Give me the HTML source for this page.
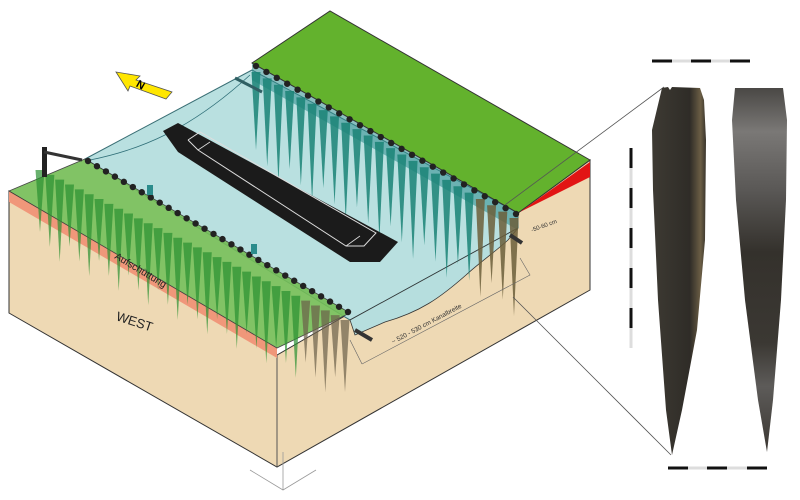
<!DOCTYPE html>
<html><head><meta charset="utf-8"><style>
html,body{margin:0;padding:0;background:#fff;width:800px;height:500px;overflow:hidden}
svg{display:block}
text{font-family:"Liberation Sans",sans-serif}
</style></head><body>
<svg width="800" height="500" viewBox="0 0 800 500" xmlns="http://www.w3.org/2000/svg">
<defs>
<linearGradient id="st1" x1="0" x2="1"><stop offset="0" stop-color="#3d3a33"/><stop offset="0.7" stop-color="#2f2c27"/><stop offset="0.9" stop-color="#6b5e45"/><stop offset="1" stop-color="#3a352c"/></linearGradient>
<linearGradient id="st2" x1="0" y1="0" x2="0" y2="1"><stop offset="0" stop-color="#4a4845"/><stop offset="0.12" stop-color="#7a7876"/><stop offset="0.28" stop-color="#5a5856"/><stop offset="0.45" stop-color="#34312c"/><stop offset="0.7" stop-color="#3b3833"/><stop offset="0.82" stop-color="#5d5b59"/><stop offset="1" stop-color="#3a3631"/></linearGradient>
</defs>
<polygon points="9,191 9,313 277,467 590,290 590,160 518,213 350,313 277,355" fill="#eed9b4" stroke="#333" stroke-width="1"/>
<line x1="277" y1="355" x2="277" y2="467" stroke="#555" stroke-width="1"/>
<polygon points="9,191 277,348 277,358 9,202" fill="#f0977a"/>
<polygon points="85,159 252,70 518,213 518,228 350,320" fill="#b9e0e0" stroke="#3a6f75" stroke-width="1"/>
<path d="M350,320 L518,228 L508,240 C495,252 480,262 466,275 C440,298 420,312 385,322 L355,335 Z" fill="#b6dede" stroke="#333" stroke-width="0.8"/>
<path d="M90,160 C140,150 190,130 250,75" fill="none" stroke="#2f6f78" stroke-width="0.8"/>
<polygon points="252,63 518,213 518,230 252,80" fill="#2b8c8c" opacity="0.55"/>
<g id="rstakes"></g>
<polygon points="163,131 178,123 398,242 380,262 350,262 178,152" fill="#1b1b1b"/>
<polyline points="188,140 200,132 376,233 364,246 346,246 198,150 188,140" fill="none" stroke="#ddd" stroke-width="1"/>
<line x1="198" y1="150" x2="210" y2="142" stroke="#ddd" stroke-width="0.8"/>
<line x1="346" y1="246" x2="360" y2="236" stroke="#ddd" stroke-width="0.8"/>
<polygon points="252,63 330,11 590,160 518,213" fill="#63b22d" stroke="#333" stroke-width="1"/>
<polygon points="520,212 590,162 590,177" fill="#e21414"/>
<g id="rbol"></g>
<polygon points="9,191 85,159 350,313 277,348" fill="#74bd55" opacity="0.9" stroke="#333" stroke-width="0.8"/>
<g id="lstakes"></g>
<g id="lbol"></g>
<rect x="42" y="147" width="5" height="30" fill="#222"/>
<line x1="44" y1="152" x2="82" y2="160" stroke="#333" stroke-width="3"/>
<line x1="235" y1="78" x2="262" y2="92" stroke="#2f5f63" stroke-width="3"/>
<line x1="355" y1="330" x2="372" y2="340" stroke="#333" stroke-width="4"/>
<line x1="510" y1="235" x2="522" y2="243" stroke="#333" stroke-width="4"/>
<rect x="147" y="185" width="6" height="10" fill="#2b8c8c"/>
<rect x="251" y="244" width="6" height="10" fill="#2b8c8c"/>
<polygon points="116,72 140,76 136,80 172,92 166,99 130,86 128,91" fill="#ffe600" stroke="#555" stroke-width="0.8"/>
<text x="137" y="88" font-size="11" font-weight="bold" transform="rotate(30 140 84)">N</text>
<text x="113" y="325" font-size="13" transform="rotate(18 130 330)" fill="#222">WEST</text>
<text x="114" y="258" font-size="10" transform="rotate(31 114 258)" fill="#222">Aufschüttung</text>
<text x="393" y="344" font-size="6.5" transform="rotate(-28 393 344)" fill="#333">~ 520 - 530 cm Kanalbreite</text>
<text x="532" y="232" font-size="6" transform="rotate(-20 532 232)" fill="#333">-50-60 cm</text>
<polyline points="362,364 530,275 520,258" fill="none" stroke="#666" stroke-width="0.6"/>
<polyline points="362,364 350,340" fill="none" stroke="#666" stroke-width="0.6"/>
<line x1="505" y1="205" x2="664" y2="87" stroke="#555" stroke-width="0.8"/>
<line x1="513" y1="297" x2="671" y2="455" stroke="#555" stroke-width="0.8"/>
<line x1="283" y1="452" x2="283" y2="490" stroke="#999" stroke-width="0.8"/>
<polyline points="250,470 283,490 316,470" fill="none" stroke="#999" stroke-width="0.8"/>
<path d="M662,88 L668,87 L670,90 L672,87 L700,88 L704,100 L706,140 L705,240 L697,330 L682,410 L672,455 L666,410 L658,300 L653,190 L652,130 Z" fill="url(#st1)"/>
<path d="M735,88 L783,88 L787,120 L786,200 L781,300 L773,400 L767,452 L758,400 L745,300 L736,200 L732,120 Z" fill="url(#st2)"/>
<g stroke-width="3">
<line x1="652" y1="61" x2="672" y2="61" stroke="#111"/><line x1="672" y1="61" x2="691" y2="61" stroke="#ddd"/><line x1="691" y1="61" x2="711" y2="61" stroke="#111"/><line x1="711" y1="61" x2="730" y2="61" stroke="#ddd"/><line x1="730" y1="61" x2="750" y2="61" stroke="#111"/>
<line x1="668" y1="468" x2="688" y2="468" stroke="#111"/><line x1="688" y1="468" x2="707" y2="468" stroke="#ddd"/><line x1="707" y1="468" x2="727" y2="468" stroke="#111"/><line x1="727" y1="468" x2="747" y2="468" stroke="#ddd"/><line x1="747" y1="468" x2="767" y2="468" stroke="#111"/>
</g>
<g id="vbar"></g>
</svg>
<script>
var NS="http://www.w3.org/2000/svg";
function el(p,t,a){var e=document.createElementNS(NS,t);for(var k in a)e.setAttribute(k,a[k]);document.getElementById(p).appendChild(e);}
for(var i=0;i<24;i++){var t=i/23;var x=256+t*258,y=72+t*146;var L=78+(i%3)*10;
el('rstakes','polygon',{points:(x-4.5)+','+y+' '+(x+4.5)+','+y+' '+x+','+(y+L),fill:i>19?'#6b5e3a':'#1a8275',opacity:'0.85'});}
for(var i=0;i<26;i++){var t=i/25;el('rbol','circle',{cx:256+t*260,cy:66+t*148,r:3.2,fill:'#222'});}
for(var i=0;i<32;i++){var t=i/31;var x=40+t*305,y=170+t*150;var L=62+(i%3)*10;
el('lstakes','polygon',{points:(x-4.5)+','+y+' '+(x+4.5)+','+y+' '+x+','+(y+L),fill:t>0.85?'#6b6048':'#2a9030',opacity:'0.7'});}
for(var i=0;i<30;i++){var t=i/29;el('lbol','circle',{cx:88+t*260,cy:161+t*151,r:3.2,fill:'#222'});}
for(var i=0;i<10;i++){el('vbar','line',{x1:631,x2:631,y1:148+i*20,y2:168+i*20,stroke:i%2?'#ddd':'#111','stroke-width':3});}
</script>
</body></html>
